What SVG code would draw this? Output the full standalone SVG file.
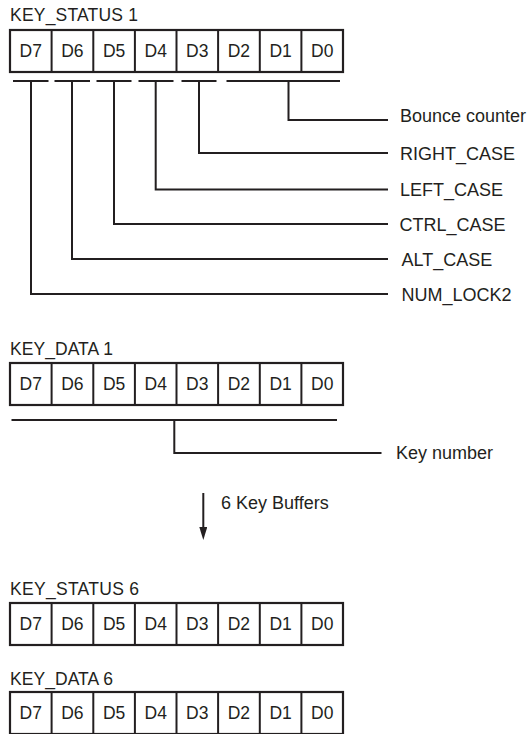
<svg xmlns="http://www.w3.org/2000/svg" width="529" height="734" viewBox="0 0 529 734">
  <style>
    .title { font-family: "Liberation Sans", Arial, sans-serif; font-size: 17.5px; fill: #231f20; }
    .label { font-family: "Liberation Sans", Arial, sans-serif; font-size: 18px; fill: #231f20; }
    .cell  { font-family: "Liberation Sans", Arial, sans-serif; font-size: 17.5px; fill: #231f20; text-anchor: middle; }
    .box   { fill: #ffffff; stroke: #231f20; stroke-width: 2.2; }
    .div   { stroke: #231f20; stroke-width: 2; }
    .wire  { fill: none; stroke: #231f20; stroke-width: 2; stroke-linecap: butt; stroke-linejoin: miter; }
  </style>
  <defs>
    <!-- one 8-bit register: eight cells D7..D0 -->
    <g id="reg">
      <rect class="box" x="10" y="0" width="333" height="42"/>
      <line class="div" x1="51.6" y1="0" x2="51.6" y2="42"/>
      <line class="div" x1="93.3" y1="0" x2="93.3" y2="42"/>
      <line class="div" x1="134.9" y1="0" x2="134.9" y2="42"/>
      <line class="div" x1="176.5" y1="0" x2="176.5" y2="42"/>
      <line class="div" x1="218.1" y1="0" x2="218.1" y2="42"/>
      <line class="div" x1="259.8" y1="0" x2="259.8" y2="42"/>
      <line class="div" x1="301.4" y1="0" x2="301.4" y2="42"/>
      <text class="cell" x="30.8" y="27">D7</text>
      <text class="cell" x="72.4" y="27">D6</text>
      <text class="cell" x="114.1" y="27">D5</text>
      <text class="cell" x="155.7" y="27">D4</text>
      <text class="cell" x="197.3" y="27">D3</text>
      <text class="cell" x="238.9" y="27">D2</text>
      <text class="cell" x="280.6" y="27">D1</text>
      <text class="cell" x="322.2" y="27">D0</text>
    </g>
    <marker id="arrowhead" markerWidth="14" markerHeight="10" refX="1" refY="4" orient="auto" markerUnits="userSpaceOnUse">
      <path d="M0,0 L13,4 L0,8 Z" fill="#231f20"/>
    </marker>
  </defs>

  <g id="key_status_1">
    <text class="title" x="10" y="21" textLength="128" lengthAdjust="spacing">KEY_STATUS 1</text>
    <use href="#reg" x="0" y="30"/>
  </g>

  <g id="key_data_1">
    <text class="title" x="10" y="355" textLength="103" lengthAdjust="spacing">KEY_DATA 1</text>
    <use href="#reg" x="0" y="363"/>
  </g>

  <g id="key_status_6">
    <text class="title" x="10" y="595" textLength="129" lengthAdjust="spacing">KEY_STATUS 6</text>
    <use href="#reg" x="0" y="603"/>
  </g>

  <g id="key_data_6">
    <text class="title" x="10" y="685" textLength="103" lengthAdjust="spacing">KEY_DATA 6</text>
    <use href="#reg" x="0" y="692"/>
  </g>

  <g id="field_labels">
    <text class="label" x="400" y="122">Bounce counter</text>
    <text class="label" x="400" y="159.5">RIGHT_CASE</text>
    <text class="label" x="400" y="196">LEFT_CASE</text>
    <text class="label" x="399.5" y="230.5">CTRL_CASE</text>
    <text class="label" x="401.5" y="265.5">ALT_CASE</text>
    <text class="label" x="401.5" y="300.5">NUM_LOCK2</text>
    <text class="label" x="396" y="459">Key number</text>
    <text class="label" x="221" y="509">6 Key Buffers</text>
  </g>

  <g id="connectors">
    <!-- bit-field brackets under KEY_STATUS 1 -->
    <line class="wire" x1="13" y1="81" x2="48.5" y2="81"/>
    <line class="wire" x1="54.5" y1="81" x2="90" y2="81"/>
    <line class="wire" x1="96.5" y1="81" x2="131.5" y2="81"/>
    <line class="wire" x1="138.5" y1="81" x2="173.5" y2="81"/>
    <line class="wire" x1="181.5" y1="81" x2="216.5" y2="81"/>
    <line class="wire" x1="226.5" y1="81" x2="340" y2="81"/>
    <!-- leader lines to field names -->
    <polyline class="wire" points="288.5,81 288.5,120 388,120"/>
    <polyline class="wire" points="199,81 199,153 388,153"/>
    <polyline class="wire" points="155.7,81 155.7,189.5 388,189.5"/>
    <polyline class="wire" points="114,81 114,224 388,224"/>
    <polyline class="wire" points="72,81 72,259 388,259"/>
    <polyline class="wire" points="31,81 31,294 388,294"/>
    <!-- KEY_DATA 1 bracket -->
    <line class="wire" x1="11.5" y1="420" x2="337" y2="420"/>
    <polyline class="wire" points="174.3,420 174.3,453 381.5,453"/>
    <!-- repetition arrow -->
    <line class="wire" x1="203.3" y1="493" x2="203.3" y2="528" marker-end="url(#arrowhead)"/>
  </g>
</svg>
